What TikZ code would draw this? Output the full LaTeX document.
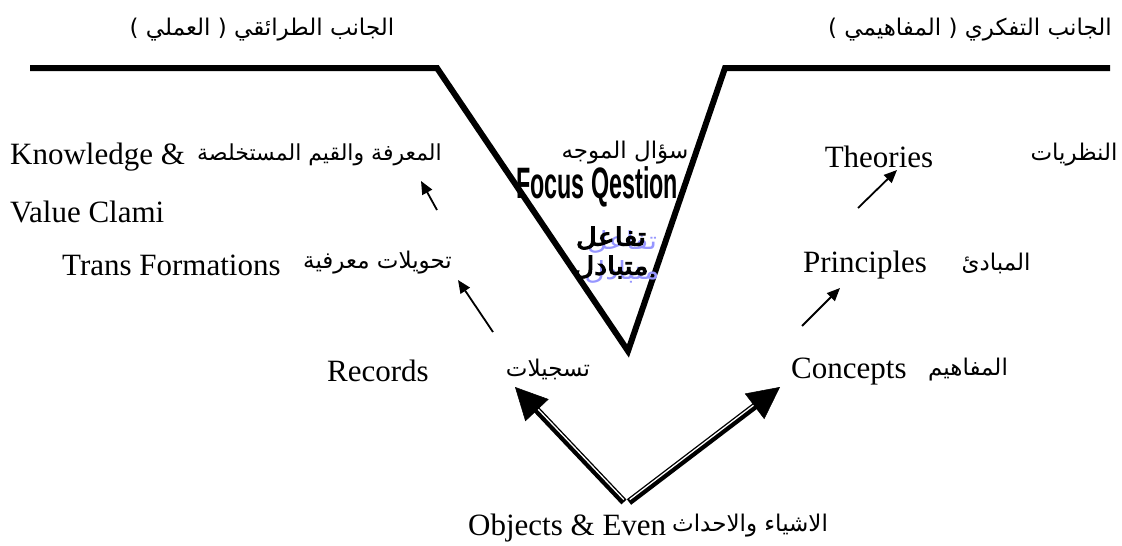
\documentclass[tikz,border=0pt]{standalone}
\usepackage{fontspec}
\usepackage{graphicx}
\setmainfont{Liberation Serif}
\newfontfamily\arabicfont[Script=Arabic]{DejaVu Sans}
\newfontfamily\arabicbold[Script=Arabic,FakeBold=4]{DejaVu Sans}
\newfontfamily\focusfont{Liberation Sans}
\TeXXeTstate=1
\usetikzlibrary{arrows.meta,calc}
\definecolor{ghostblue}{RGB}{150,150,255}
\begin{document}
\begin{tikzpicture}[x=1pt,y=-1pt,
  en/.style={inner sep=0pt, font=\fontsize{31}{36}\selectfont},
  ar/.style={inner sep=0pt, font=\arabicfont\fontsize{23}{27}\selectfont},
  arb/.style={inner sep=0pt, font=\arabicbold\fontsize{25}{28}\selectfont},
  ghost/.style={inner sep=0pt, text=ghostblue, font=\arabicfont\fontsize{25}{28}\selectfont},
  thinarrow/.style={line width=1.8pt, -{Triangle[length=13pt,width=11pt]}},
  blackshaft/.style={line width=7pt},
  whiteshaft/.style={line width=1.3pt, white, shorten <=2pt, shorten >=1pt},
  bighead/.style={line width=0.5pt, -{Triangle[length=32pt,width=32pt]}},
  vline/.style={line width=6pt, line join=miter}
]
\useasboundingbox (0,0) rectangle (1122,546);
% V shape
\draw[vline] (30,68) -- (437,68) -- (628,351) -- (725,68) -- (1110,68);
% titles
\node[ar] (titleL) at (262,30) {\beginR الجانب الطرائقي ( العملي )\endR};
\node[ar] (titleR) at (970,30) {\beginR الجانب التفكري ( المفاهيمي )\endR};
% left column
\node[en, anchor=west] (know) at (10,157) {Knowledge \&};
\node[ar, anchor=west, font=\arabicfont\fontsize{22}{26}\selectfont] (knowAr) at (197,155) {\beginR المعرفة والقيم المستخلصة\endR};
\node[en, anchor=west] (value) at (10,212) {Value Clami};
\node[en, anchor=west] (trans) at (62,265) {Trans Formations};
\node[ar, anchor=east] (transAr) at (452,263) {\beginR تحويلات معرفية\endR};
\node[en] (records) at (378,371) {Records};
\node[ar] (recAr) at (548,369) {\beginR تسجيلات\endR};
% middle
\node[ar] (focusAr) at (625,153) {\beginR سؤال الموجه\endR};
\node[inner sep=0pt] (focus) at (597,187) {\focusfont\bfseries\fontsize{44}{48}\selectfont\scalebox{0.53}[1]{Focus Qestion}};
\node[ghost] (inter1g) at (622,242) {\scalebox{1.15}[1]{\beginR تفاعل\endR}};
\node[ghost] (inter2g) at (622,272) {\scalebox{1.15}[1]{\beginR متبادل\endR}};
\node[arb] (inter1) at (611,238) {\scalebox{1.15}[1]{\beginR تفاعل\endR}};
\node[arb] (inter2) at (611,267) {\scalebox{1.15}[1]{\beginR متبادل\endR}};
% right column
\node[en] (theories) at (879,157) {Theories};
\node[ar] (theoAr) at (1074,155) {\beginR النظريات\endR};
\node[en] (princ) at (865,265) {Principles};
\node[ar] (princAr) at (996,263) {\beginR المبادئ\endR};
\node[en, anchor=west] (concepts) at (791,372) {Concepts};
\node[ar] (concAr) at (968,370) {\beginR المفاهيم\endR};
% bottom
\node[en, anchor=west] (objects) at (468,528) {Objects \& Even};
\node[ar, anchor=west] (objAr) at (672,526) {\beginR الاشياء والاحداث\endR};
% thin arrows
\coordinate (a1s) at (437,210); \coordinate (a1e) at (421,181);
\coordinate (a2s) at (493,332); \coordinate (a2e) at (458,280);
\coordinate (a3s) at (858,208); \coordinate (a3e) at (897,170);
\coordinate (a4s) at (802,326); \coordinate (a4e) at (840,288);
\draw[thinarrow] (a1s) -- (a1e);
\draw[thinarrow] (a2s) -- (a2e);
\draw[thinarrow] (a3s) -- (a3e);
\draw[thinarrow] (a4s) -- (a4e);
% big double arrows
\coordinate (src1) at (624,502); \coordinate (src2) at (629,502);
\coordinate (recTip) at (515,387); \coordinate (conTip) at (780,387);
\coordinate (recBase) at ($(recTip)!26pt!(src1)$);
\coordinate (conBase) at ($(conTip)!26pt!(src2)$);
\draw[blackshaft] (src1) -- (recBase);
\draw[blackshaft] (src2) -- (conBase);
\draw[whiteshaft] ($(src1)+(1.1,-1.0)$) -- ($(recBase)+(1.1,-1.0)$);
\draw[whiteshaft] ($(src2)+(-0.9,-1.2)$) -- ($(conBase)+(-0.9,-1.2)$);
\draw[bighead] ($(recTip)!31pt!(src1)$) -- (recTip);
\draw[bighead] ($(conTip)!31pt!(src2)$) -- (conTip);
\end{tikzpicture}
\end{document}
